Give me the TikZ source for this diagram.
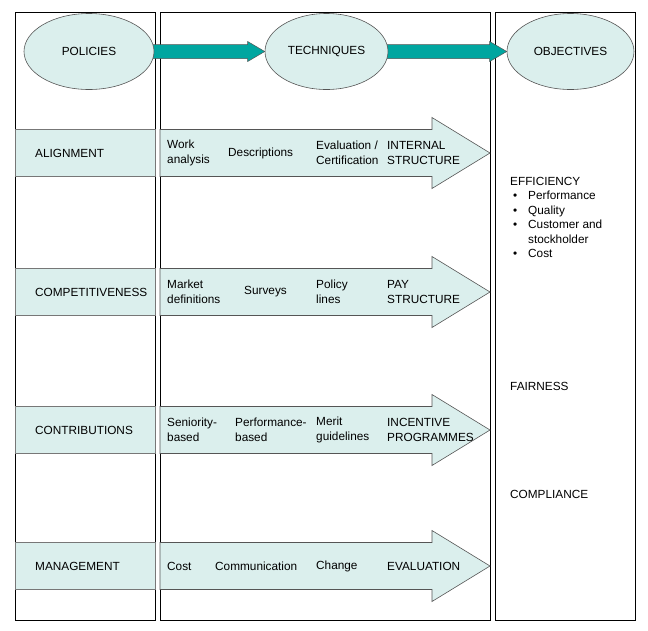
\documentclass[tikz,border=0pt]{standalone}
\usepackage{fontspec}
\setmainfont{Liberation Sans}
\usetikzlibrary{shapes.geometric,calc}
\definecolor{lightteal}{RGB}{219,239,237}
\definecolor{tealarrow}{RGB}{0,166,160}
\definecolor{edgegray}{RGB}{85,85,85}
\pgfdeclarelayer{colslayer}
\pgfdeclarelayer{connlayer}
\pgfsetlayers{colslayer,connlayer,main}
\begin{document}
\begin{tikzpicture}[x=1pt,y=-1pt,
  every node/.style={font=\fontsize{11.8}{14.5}\selectfont},
  colbox/.style={draw=black,line width=0.8pt,anchor=north west,inner sep=0,minimum height=608pt},
  ovalnode/.style={ellipse,draw=edgegray,fill=lightteal,line width=0.6pt,inner sep=0,minimum height=76pt},
  tealconn/.style={fill=tealarrow,draw=edgegray,line width=0.5pt},
  bandbox/.style={fill=lightteal,draw=edgegray!80,line width=0.6pt},
  bigarr/.style={fill=lightteal,draw=edgegray,line width=0.6pt,line join=miter},
  lab/.style={anchor=west,inner sep=0,align=left}
]
\useasboundingbox (0,0) rectangle (648,630);
% columns
\begin{pgfonlayer}{colslayer}
\node[colbox,minimum width=140pt] (colP) at (15,12) {};
\node[colbox,minimum width=330pt] (colT) at (160,12) {};
\node[colbox,minimum width=140pt] (colO) at (495,12) {};
\end{pgfonlayer}
% header ellipses
\node[ovalnode,minimum width=130pt] (pol) at (89,51.5) {POLICIES};
\node[ovalnode,minimum width=123pt] (tech) at (326.5,51.5) {TECHNIQUES};
\node[ovalnode,minimum width=127pt] (obj) at (570.5,51.5) {OBJECTIVES};
% teal connectors
\begin{pgfonlayer}{connlayer}
\draw[tealconn] ($(pol.east)+(-6,-7)$) -- ($(tech.west)+(-17,-7)$) -- ($(tech.west)+(-17,-10)$) -- (tech.west) -- ($(tech.west)+(-17,10)$) -- ($(tech.west)+(-17,7)$) -- ($(pol.east)+(-6,7)$);
\draw[tealconn] ($(tech.east)+(-3,-7)$) -- ($(obj.west)+(-17,-7)$) -- ($(obj.west)+(-17,-10)$) -- (obj.west) -- ($(obj.west)+(-17,10)$) -- ($(obj.west)+(-17,7)$) -- ($(tech.east)+(-3,7)$);
\end{pgfonlayer}
% rows
\foreach \yy in {153,292,430,566}{
  \draw[bandbox] (15,{\yy-23.5}) rectangle (155,{\yy+23.5});
  \draw[bigarr] (160,{\yy-23.5}) -- (432,{\yy-23.5}) -- (432,{\yy-35.5}) -- (490,\yy) -- (432,{\yy+35.5}) -- (432,{\yy+23.5}) -- (160,{\yy+23.5}) -- cycle;
}
% left labels
\node[lab] (l1) at (35,153) {ALIGNMENT};
\node[lab] (l2) at (35,292) {COMPETITIVENESS};
\node[lab] (l3) at (35,430) {CONTRIBUTIONS};
\node[lab] (l4) at (35,566) {MANAGEMENT};
% row 1
\node[lab] (a1) at (167,153) {Work\\analysis};
\node[lab] (a2) at (228,153) {Descriptions};
\node[lab] (a3) at (316,153) {Evaluation /\\Certification};
\node[lab] (a4) at (387,153) {INTERNAL\\STRUCTURE};
% row 2
\node[lab] (b1) at (167,292) {Market\\definitions};
\node[lab] (b2) at (244,292) {Surveys};
\node[lab] (b3) at (316,292) {Policy\\lines};
\node[lab] (b4) at (387,292) {PAY\\STRUCTURE};
% row 3
\node[lab] (c1) at (167,430) {Seniority-\\based};
\node[lab] (c2) at (235,430) {Performance-\\based};
\node[lab] (c3) at (316,430) {Merit\\guidelines};
\node[lab] (c4) at (387,430) {INCENTIVE\\PROGRAMMES};
% row 4
\node[lab] (d1) at (167,566) {Cost};
\node[lab] (d2) at (215,566) {Communication};
\node[lab] (d3) at (316,566) {Change};
\node[lab] (d4) at (387,566) {EVALUATION};
% objectives
\node[lab,anchor=north west] (eff) at (510,177) {EFFICIENCY\\
\hspace*{3pt}\makebox[15pt][l]{\textbullet}Performance\\
\hspace*{3pt}\makebox[15pt][l]{\textbullet}Quality\\
\hspace*{3pt}\makebox[15pt][l]{\textbullet}Customer and\\
\hspace*{18pt}stockholder\\
\hspace*{3pt}\makebox[15pt][l]{\textbullet}Cost};
\node[lab] (fair) at (510,386) {FAIRNESS};
\node[lab] (comp) at (510,494) {COMPLIANCE};
\end{tikzpicture}
\end{document}
